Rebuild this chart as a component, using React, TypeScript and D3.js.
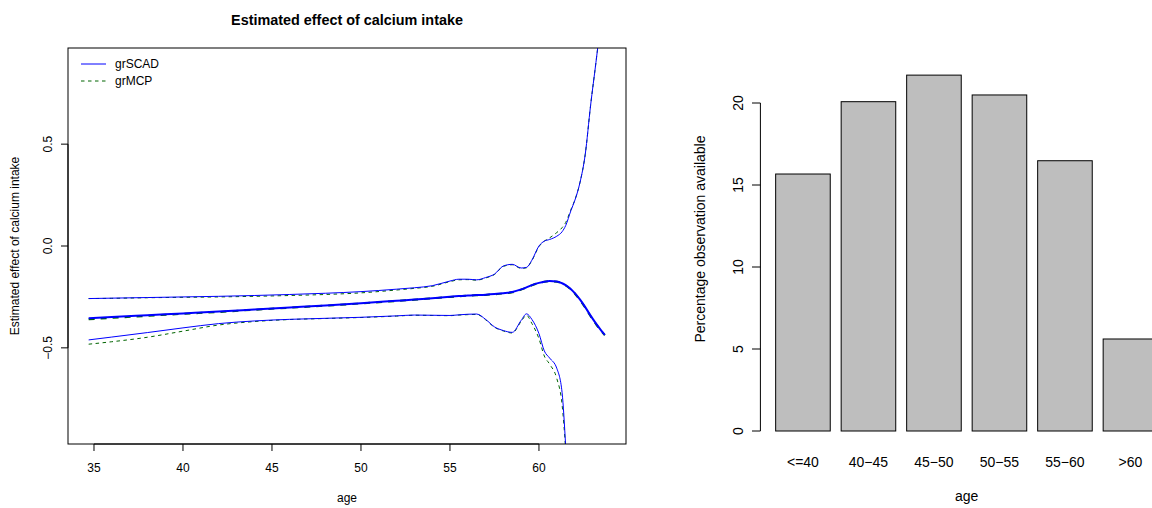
import React from "react";
import * as d3 from "d3";

// ---------- Left panel data ----------
const ages = [34.7, 36, 38, 40, 42, 44, 46, 48, 50, 52, 53, 54, 55, 55.5, 56, 56.5, 57, 57.5, 58, 58.5, 59, 59.3, 59.6, 60, 60.3, 60.6, 61, 61.3, 61.5, 61.8, 62, 62.3, 62.6, 62.9, 63.2, 63.5, 63.7];

const scadEst = [-0.355, -0.349, -0.340, -0.331, -0.322, -0.312, -0.302, -0.292, -0.281, -0.269, -0.263, -0.256, -0.249, -0.246, -0.243, -0.241, -0.239, -0.236, -0.232, -0.226, -0.213, -0.203, -0.192, -0.181, -0.175, -0.172, -0.174, -0.183, -0.192, -0.212, -0.230, -0.262, -0.300, -0.342, -0.380, -0.415, -0.436];
const scadUpper = [-0.258, -0.256, -0.253, -0.250, -0.247, -0.243, -0.238, -0.232, -0.224, -0.212, -0.205, -0.195, -0.172, -0.163, -0.163, -0.166, -0.155, -0.138, -0.098, -0.090, -0.108, -0.105, -0.070, 0.000, 0.024, 0.032, 0.048, 0.070, 0.100, 0.175, 0.220, 0.310, 0.450, 0.690, 0.900, 1.120, 1.280];
const scadLower = [-0.461, -0.447, -0.425, -0.402, -0.381, -0.368, -0.360, -0.355, -0.350, -0.343, -0.339, -0.340, -0.341, -0.338, -0.335, -0.334, -0.360, -0.397, -0.415, -0.424, -0.365, -0.333, -0.360, -0.430, -0.515, -0.550, -0.600, -0.720, -0.980, -1.500, -1.900, -2.300, -2.700, -3.100, -3.500, -3.900, -4.200];

const mcpEst = [-0.360, -0.353, -0.343, -0.333, -0.324, -0.313, -0.303, -0.293, -0.282, -0.270, -0.264, -0.257, -0.250, -0.247, -0.244, -0.242, -0.240, -0.237, -0.233, -0.227, -0.214, -0.204, -0.193, -0.182, -0.176, -0.173, -0.175, -0.184, -0.194, -0.214, -0.232, -0.265, -0.303, -0.345, -0.383, -0.418, -0.438];
const mcpUpper = [-0.258, -0.257, -0.254, -0.252, -0.250, -0.247, -0.243, -0.238, -0.230, -0.216, -0.208, -0.198, -0.175, -0.166, -0.165, -0.168, -0.157, -0.140, -0.100, -0.092, -0.110, -0.107, -0.072, -0.003, 0.024, 0.040, 0.066, 0.090, 0.115, 0.180, 0.222, 0.310, 0.450, 0.690, 0.900, 1.120, 1.280];
const mcpLower = [-0.482, -0.470, -0.448, -0.418, -0.388, -0.371, -0.361, -0.356, -0.351, -0.344, -0.340, -0.341, -0.342, -0.339, -0.337, -0.336, -0.362, -0.399, -0.417, -0.427, -0.370, -0.340, -0.380, -0.455, -0.540, -0.580, -0.650, -0.780, -1.000, -1.500, -1.900, -2.300, -2.700, -3.100, -3.500, -3.900, -4.200];

const ageTicks = [35, 40, 45, 50, 55, 60];
const effectTicks = [-0.5, 0, 0.5];
const effectTickLabels = ["\u22120.5", "0.0", "0.5"];
const legendLabels = ["grSCAD", "grMCP"];

// ---------- Right panel data ----------
const ageGroups = ["<=40", "40\u221245", "45\u221250", "50\u221255", "55\u221260", ">60"];
const pctObs = [15.67, 20.08, 21.7, 20.49, 16.48, 5.61];
const pctTicks = [0, 5, 10, 15, 20];

const FONT = "'Liberation Sans', Arial, Helvetica, sans-serif";
const BLUE = "#0000FF";
const GREEN = "#006400";

export default function App() {
  // left panel geometry
  const L = { left: 68, right: 626, top: 48, bottom: 444 };
  const x = d3.scaleLinear().domain([33.54, 64.89]).range([L.left, L.right]);
  const y = d3.scaleLinear().domain([-0.972, 0.972]).range([L.bottom, L.top]);

  const mk = (vals: number[]) =>
    d3
      .line<number>()
      .x((_, i) => x(ages[i]))
      .y((v) => y(v))
      .curve(d3.curveMonotoneX)(vals) || "";

  // right panel geometry
  const yb = d3.scaleLinear().domain([0, 20]).range([431, 103]);
  const xb = d3
    .scaleBand<string>()
    .domain(ageGroups)
    .range([770.2, 1163.2])
    .paddingInner(1 / 6)
    .paddingOuter(1 / 12);
  const axisX = 760.4;
  const rightCenter = (760.4 + 1173) / 2;

  return (
    <div style={{ position: "absolute", left: 0, top: 0 }}>
      <svg width={1152} height={508} style={{ display: "block", background: "#fff" }} fontFamily={FONT}>
        <defs>
          <clipPath id="plotClip">
            <rect x={L.left} y={L.top} width={L.right - L.left} height={L.bottom - L.top} />
          </clipPath>
        </defs>

        {/* Title */}
        <text x={(L.left + L.right) / 2} y={20} textAnchor="middle" dominantBaseline="central" fontSize={14.4} fontWeight="bold">
          Estimated effect of calcium intake
        </text>

        {/* Lines */}
        <g clipPath="url(#plotClip)" fill="none">
          <path d={mk(mcpUpper)} stroke={GREEN} strokeWidth={1} strokeDasharray="3.5,3.5" />
          <path d={mk(mcpLower)} stroke={GREEN} strokeWidth={1} strokeDasharray="3.5,3.5" />
          <path d={mk(mcpEst)} stroke={GREEN} strokeWidth={2} strokeDasharray="6,6" />
          <path d={mk(scadUpper)} stroke={BLUE} strokeWidth={1} />
          <path d={mk(scadLower)} stroke={BLUE} strokeWidth={1} />
          <path d={mk(scadEst)} stroke={BLUE} strokeWidth={2} />
        </g>

        {/* Box */}
        <rect x={L.left} y={L.top} width={L.right - L.left} height={L.bottom - L.top} fill="none" stroke="#000" strokeWidth={1} />

        {/* X axis */}
        <line x1={x(ageTicks[0])} x2={x(ageTicks[ageTicks.length - 1])} y1={L.bottom} y2={L.bottom} stroke="#000" />
        {ageTicks.map((t) => (
          <g key={t}>
            <line x1={x(t)} x2={x(t)} y1={L.bottom} y2={L.bottom + 7} stroke="#000" />
            <text x={x(t)} y={468} textAnchor="middle" dominantBaseline="central" fontSize={12}>
              {t}
            </text>
          </g>
        ))}
        <text x={(L.left + L.right) / 2} y={498} textAnchor="middle" dominantBaseline="central" fontSize={12}>
          age
        </text>

        {/* Y axis */}
        <line x1={L.left} x2={L.left} y1={y(effectTicks[0])} y2={y(effectTicks[effectTicks.length - 1])} stroke="#000" />
        {effectTicks.map((t, i) => (
          <g key={t}>
            <line x1={L.left - 7} x2={L.left} y1={y(t)} y2={y(t)} stroke="#000" />
            <text transform={`translate(48,${y(t)}) rotate(-90)`} textAnchor="middle" dominantBaseline="central" fontSize={12}>
              {effectTickLabels[i]}
            </text>
          </g>
        ))}
        <text transform={`translate(15,${(L.top + L.bottom) / 2}) rotate(-90)`} textAnchor="middle" dominantBaseline="central" fontSize={12}>
          Estimated effect of calcium intake
        </text>

        {/* Legend */}
        {legendLabels.map((lab, i) => (
          <g key={lab}>
            <line
              x1={81}
              x2={106}
              y1={64 + i * 17}
              y2={64 + i * 17}
              stroke={i === 0 ? BLUE : GREEN}
              strokeWidth={1}
              strokeDasharray={i === 0 ? undefined : "3.5,3.5"}
            />
            <text x={115} y={64 + i * 17} dominantBaseline="central" fontSize={12}>
              {lab}
            </text>
          </g>
        ))}

        {/* ---------- Right panel: bar chart ---------- */}
        {ageGroups.map((g, i) => (
          <rect
            key={g}
            x={xb(g)}
            y={yb(pctObs[i])}
            width={xb.bandwidth()}
            height={yb(0) - yb(pctObs[i])}
            fill="#BEBEBE"
            stroke="#000"
            strokeWidth={1}
          />
        ))}
        <line x1={axisX} x2={axisX} y1={yb(0)} y2={yb(20)} stroke="#000" />
        {pctTicks.map((t) => (
          <g key={t}>
            <line x1={axisX - 8.4} x2={axisX} y1={yb(t)} y2={yb(t)} stroke="#000" />
            <text transform={`translate(738,${yb(t)}) rotate(-90)`} textAnchor="middle" dominantBaseline="central" fontSize={14}>
              {t}
            </text>
          </g>
        ))}
        {ageGroups.map((g) => (
          <text key={g} x={(xb(g) || 0) + xb.bandwidth() / 2} y={462} textAnchor="middle" dominantBaseline="central" fontSize={14}>
            {g}
          </text>
        ))}
        <text x={rightCenter} y={496} textAnchor="middle" dominantBaseline="central" fontSize={14}>
          age
        </text>
        <text transform={`translate(700,239) rotate(-90)`} textAnchor="middle" dominantBaseline="central" fontSize={14}>
          Percentage observation available
        </text>
      </svg>
    </div>
  );
}
